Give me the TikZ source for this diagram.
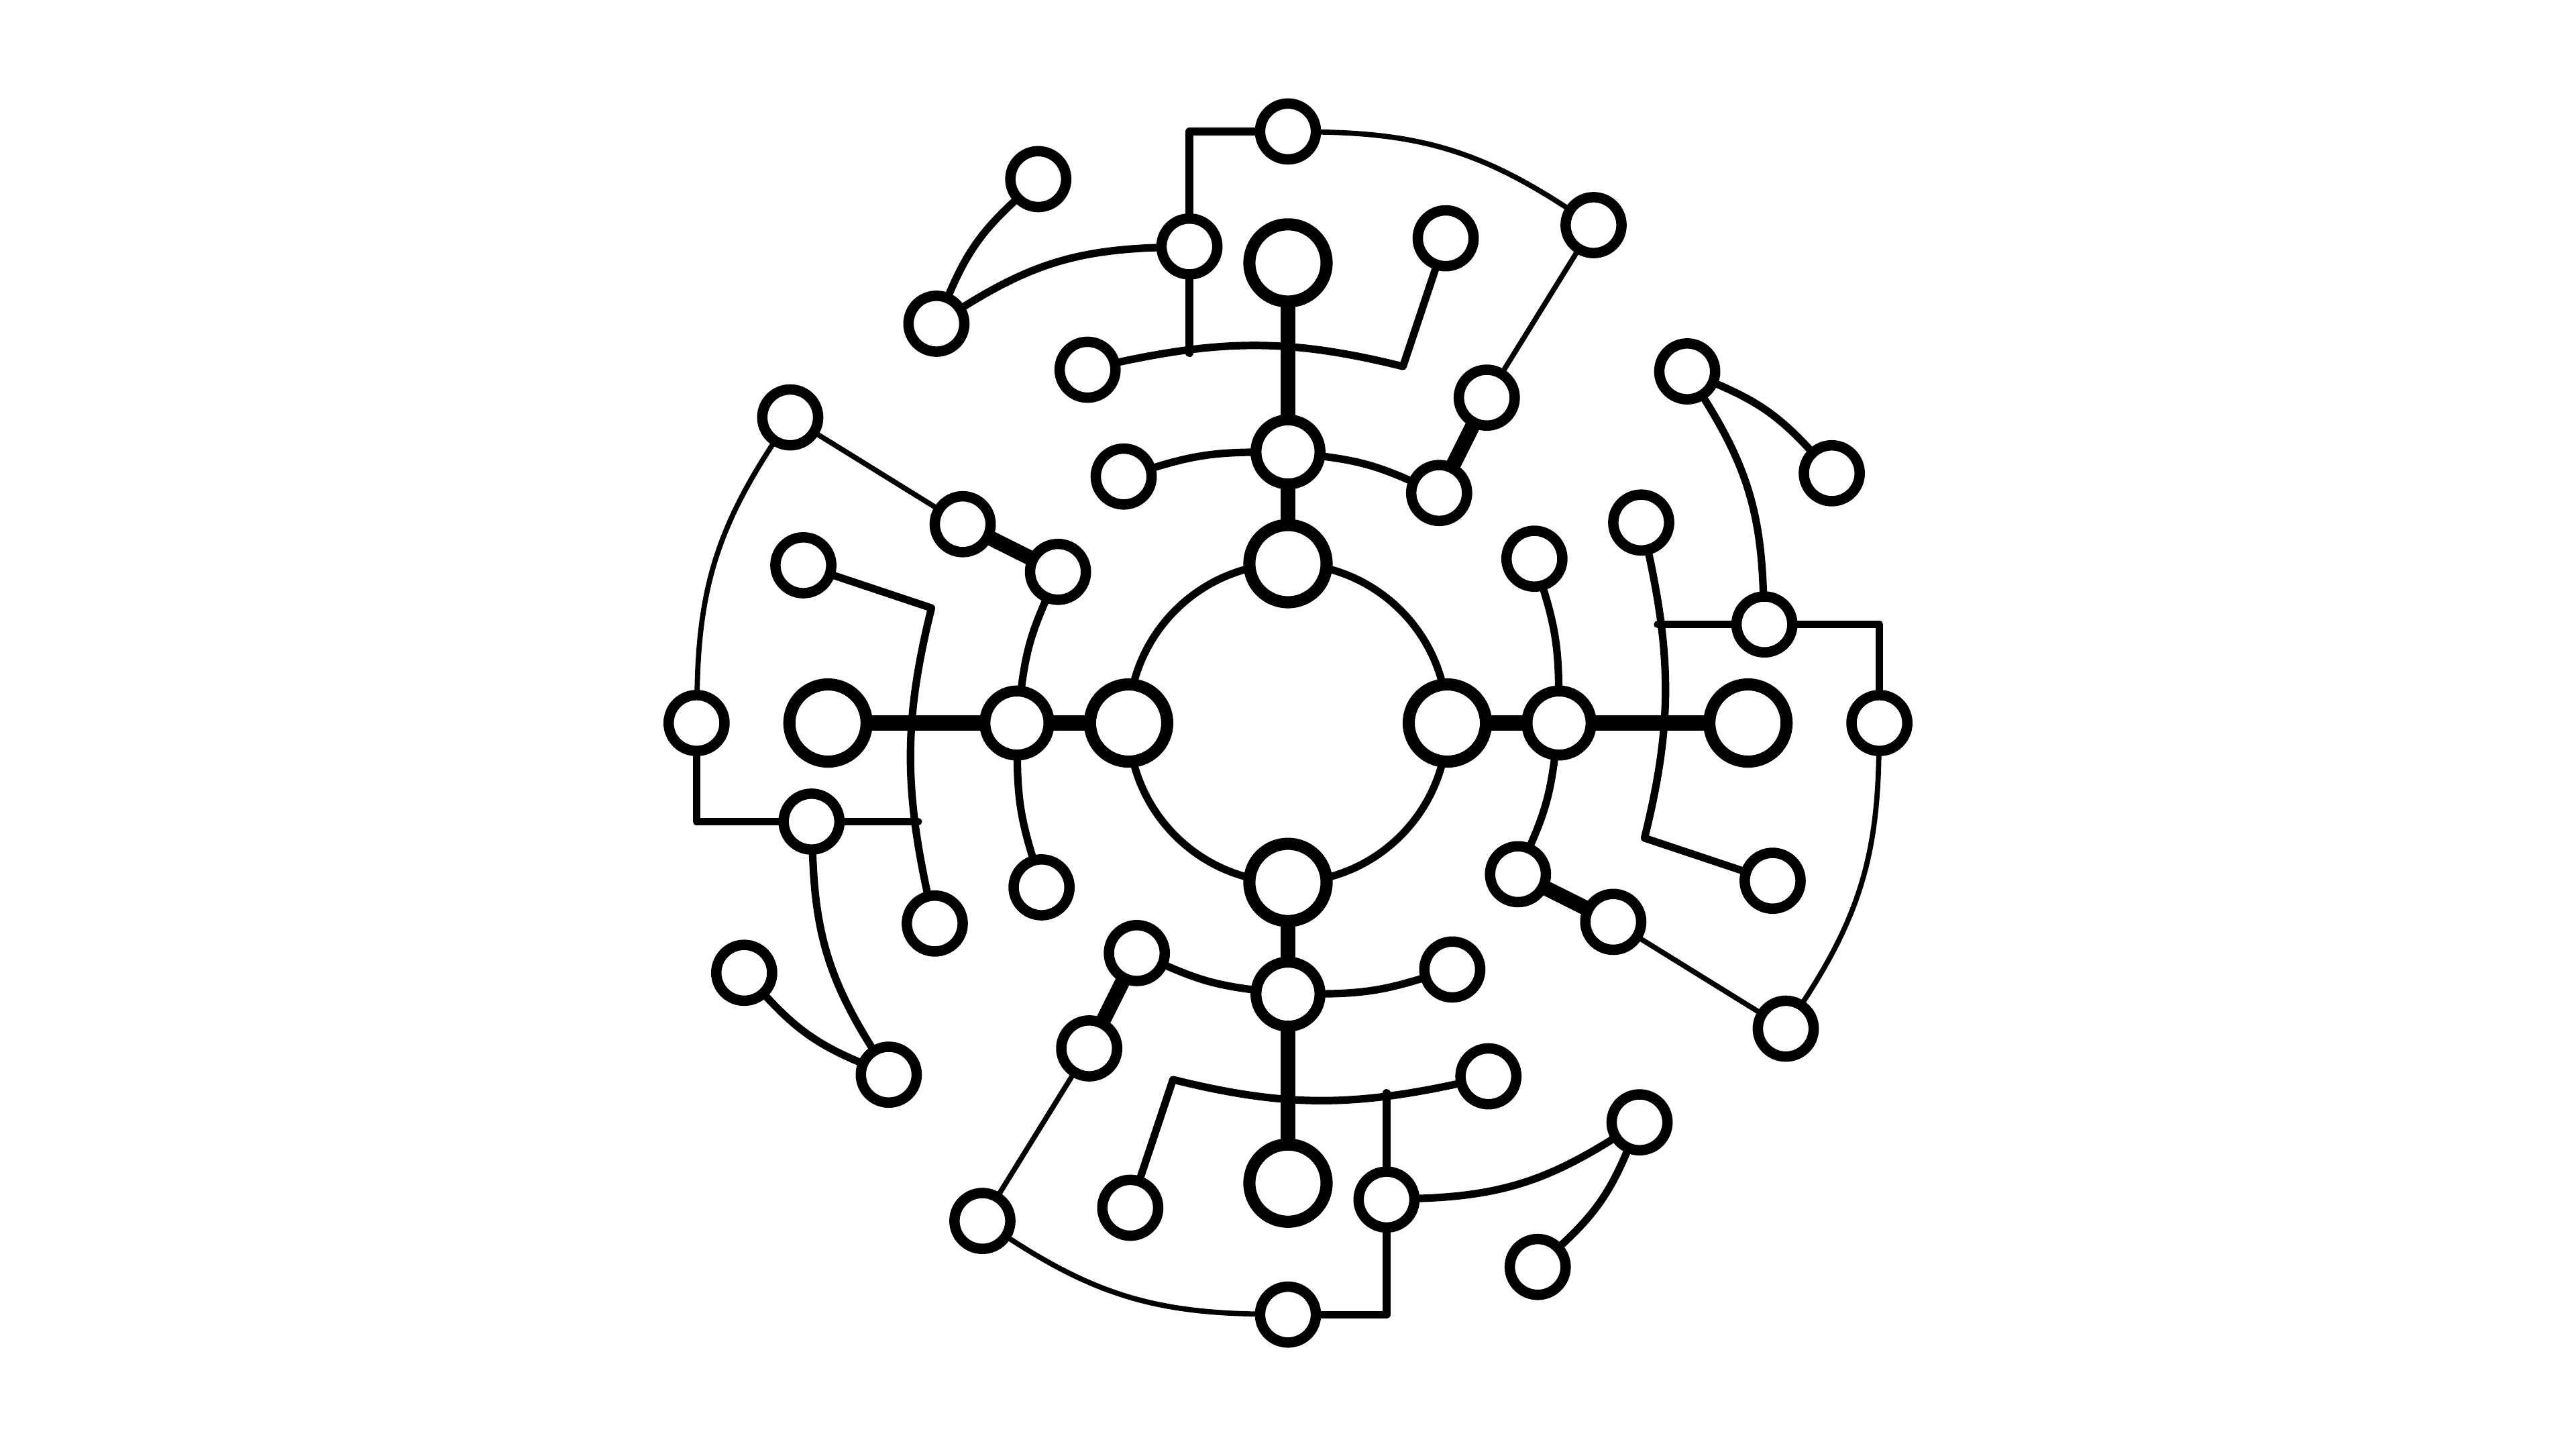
\documentclass[tikz,border=0pt]{standalone}
\tikzset{
	every path/.style={line cap=round, line join=round},
	hub/.style={
		draw,
		circle,
		line width=2.1pt,
		minimum size=4.7mm,
		inner sep=0pt,
		fill=white,
	},
	joint/.style={
		draw,
		circle,
		line width=1.9pt,
		minimum size=3.9mm,
		inner sep=0pt,
		fill=white,
	},
	leaf/.style={
		draw,
		circle,
		line width=1.8pt,
		minimum size=3.4mm,
		inner sep=0pt,
		fill=white,
	},
	spoke/.style={line width=2.6pt},
	link/.style={line width=1.3pt},
	faint/.style={line width=0.9pt},
}

\begin{document}
\begin{tikzpicture}[x=0.1mm, y=0.1mm]
		\useasboundingbox (-784,-442) rectangle (784,440);

		% inner ring
		\draw[link] (0,0) circle[radius=9.7mm];

		% one arm, turned four times
		\foreach \ang/\arm in {0/n,-90/e,-180/s,-270/w}{
		\begin{scope}[rotate=\ang]
			\node[hub] (ring\arm) at (0,97) {};
			\node[joint] (mid\arm) at (0,165) {};
			\node[hub] (tip\arm) at (0,280) {};
			\node[leaf] (inl\arm) at (-100,150) {};
			\node[leaf] (inr\arm) at (92,140) {};
			\node[leaf] (chain\arm) at (121,198) {};
			\node[leaf] (far\arm) at (186,303) {};
			\node[leaf] (crown\arm) at (0,360) {};
			\node[leaf] (stem\arm) at (-60,290) {};
			\node[leaf] (crossl\arm) at (-122,215) {};
			\node[leaf] (crossr\arm) at (96,295) {};
			\node[leaf] (side\arm) at (-214,243) {};
			\node[leaf] (sidetip\arm) at (-152,331) {};
			\coordinate (knee\arm) at (70,217);
			\coordinate (foot\arm) at (-60,225);
			\coordinate (elbow\arm) at (-60,360);

			\draw[spoke] (ring\arm) -- (mid\arm) -- (tip\arm);
			\draw[link] (mid\arm) to[bend right=8] (inl\arm);
			\draw[link] (mid\arm) to[bend left=8] (inr\arm);
			\draw[spoke] (inr\arm) -- (chain\arm);
			\draw[faint] (chain\arm) -- (far\arm);
			\draw[faint] (crown\arm) to[bend left=16] (far\arm);
			\draw[link] (crossl\arm) to[bend left=13] (knee\arm) -- (crossr\arm);
			\draw[link] (foot\arm) -- (stem\arm);
			\draw[link] (stem\arm) -- (elbow\arm) -- (crown\arm);
			\draw[link] (side\arm) to[bend left=15] (stem\arm);
			\draw[link] (side\arm) to[bend left=12] (sidetip\arm);
		\end{scope}
		}

	\end{tikzpicture}
\end{document}
